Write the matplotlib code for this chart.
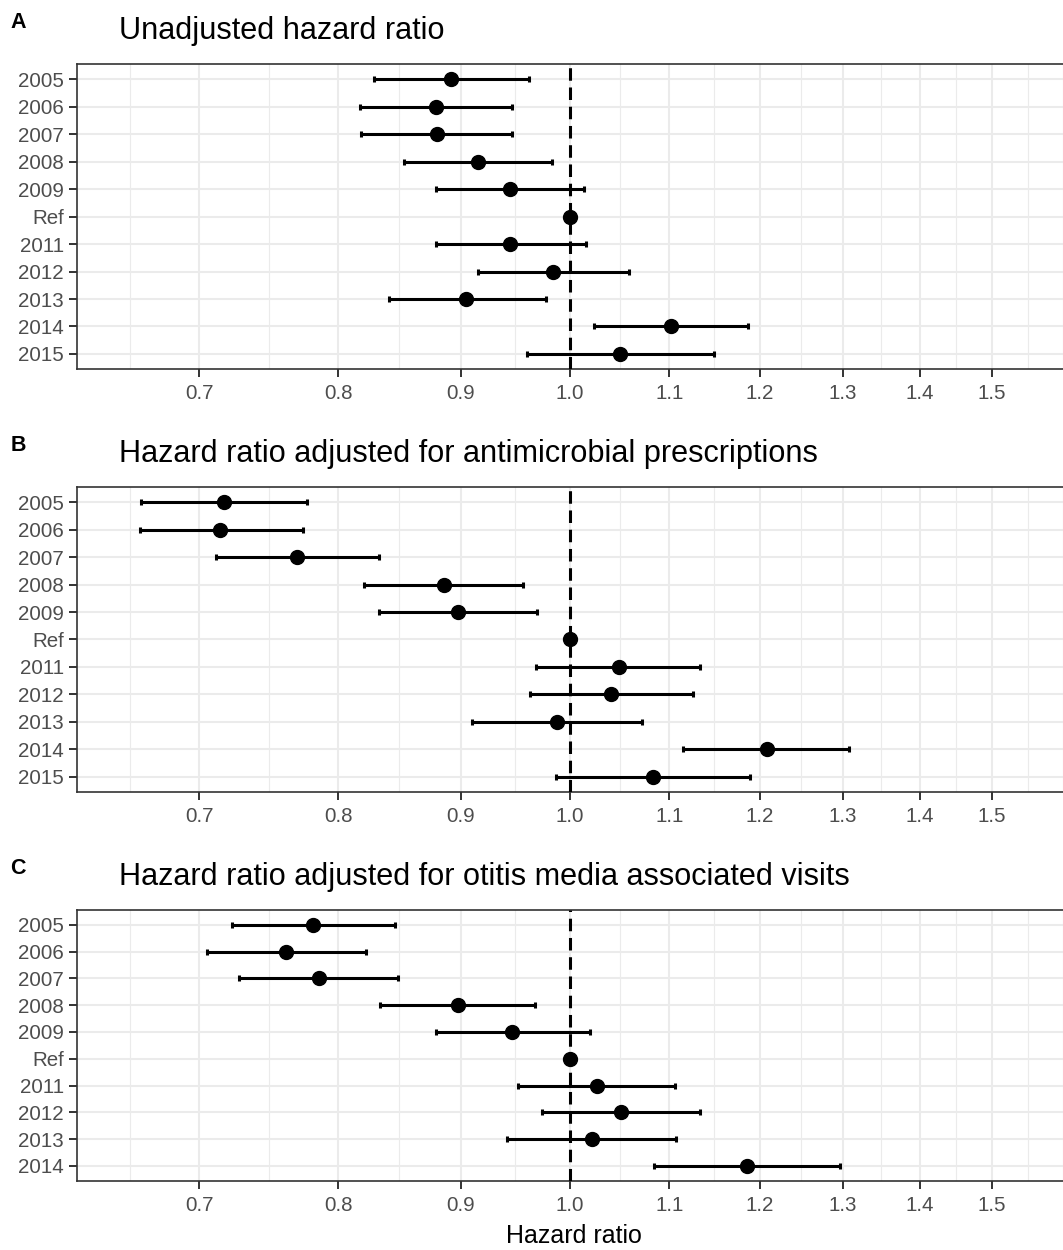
import numpy as np
import matplotlib
matplotlib.use("Agg")
import matplotlib.pyplot as plt
from matplotlib.ticker import NullLocator, NullFormatter, FixedLocator, FixedFormatter

plt.rcParams["font.family"] = ["Liberation Sans", "DejaVu Sans"]

# ---- data ----
years = ["2005", "2006", "2007", "2008", "2009", "Ref", "2011", "2012", "2013", "2014", "2015"]
years_c = years[:-1]

hr_a = [0.892, 0.879, 0.880, 0.915, 0.944, 1.0, 0.944, 0.984, 0.905, 1.102, 1.049]
lo_a = [0.828, 0.817, 0.818, 0.852, 0.879, 1.0, 0.879, 0.915, 0.840, 1.023, 0.959]
hi_a = [0.961, 0.946, 0.946, 0.983, 1.013, 1.0, 1.015, 1.058, 0.977, 1.187, 1.148]

hr_b = [0.717, 0.714, 0.769, 0.886, 0.898, 1.0, 1.048, 1.040, 0.987, 1.208, 1.083]
lo_b = [0.662, 0.661, 0.711, 0.820, 0.832, 1.0, 0.968, 0.962, 0.910, 1.115, 0.986]
hi_b = [0.776, 0.773, 0.832, 0.956, 0.969, 1.0, 1.133, 1.125, 1.072, 1.308, 1.189]

hr_c = [0.781, 0.761, 0.785, 0.898, 0.946, 1.0, 1.026, 1.050, 1.021, 1.185]
lo_c = [0.722, 0.705, 0.727, 0.833, 0.879, 1.0, 0.951, 0.973, 0.941, 1.084]
hi_c = [0.845, 0.822, 0.847, 0.967, 1.019, 1.0, 1.106, 1.133, 1.107, 1.297]

x_breaks = [0.7, 0.8, 0.9, 1.0, 1.1, 1.2, 1.3, 1.4, 1.5]
x_limits = (0.6224, 1.619)

titles = ["Unadjusted hazard ratio",
          "Hazard ratio adjusted for antimicrobial prescriptions",
          "Hazard ratio adjusted for otitis media associated visits"]
tags = ["A", "B", "C"]

W, H = 1063, 1250
GRID = "#EBEBEB"
DARK = "#333333"

fig = plt.figure(figsize=(W / 100, H / 100), dpi=100)


def px(x, y):
    return x / W, 1 - y / H


# minor grid positions: ggplot-style midpoints in log space
lb = np.log(x_breaks)
ext = np.concatenate([[lb[0] - (lb[1] - lb[0])], lb, [lb[-1] + (lb[-1] - lb[-2])]])
minor_x = np.exp(np.concatenate([(ext[:-1] + ext[1:]) / 2, [ext[0], ext[-1]]]))


def draw_panel(rect, labels, hr, lo, hi):
    ax = fig.add_axes(rect)
    hr, lo, hi = map(np.asarray, (hr, lo, hi))
    y = np.arange(len(labels))
    ax.set_xscale("log")
    ax.set_xlim(*x_limits)
    ax.set_ylim(len(labels) - 1 + 0.56, -0.56)

    for m in minor_x:
        ax.axvline(m, color=GRID, lw=0.8, zorder=0)
    for b in x_breaks:
        ax.axvline(b, color=GRID, lw=1.5, zorder=0)
    for yy in y:
        ax.axhline(yy, color=GRID, lw=1.5, zorder=0)

    ax.errorbar(hr, y, xerr=[hr - lo, hi - hr], fmt="none", ecolor="black",
                elinewidth=2.2, capsize=2.0, capthick=2.2, zorder=2)
    ax.axvline(1.0, color="black", lw=2.2, linestyle=(0, (4.1, 2.2)), zorder=3)
    ax.plot(hr, y, "o", color="black", markersize=10, zorder=4)

    ax.xaxis.set_major_locator(FixedLocator(x_breaks))
    ax.xaxis.set_major_formatter(FixedFormatter([f"{b:.1f}" for b in x_breaks]))
    ax.xaxis.set_minor_locator(NullLocator())
    ax.xaxis.set_minor_formatter(NullFormatter())
    ax.set_yticks(y)
    ax.set_yticklabels(labels)
    ax.tick_params(axis="both", length=6, width=1.4, color=DARK,
                   labelcolor="#4D4D4D", labelsize=14.8)
    ax.tick_params(axis="x", pad=4.5)
    ax.tick_params(axis="y", pad=3.5)
    for s in ax.spines.values():
        s.set_color(DARK)
        s.set_linewidth(1.2)
    return ax


panels = [
    (years, hr_a, lo_a, hi_a, 64.0, 369.3),
    (years, hr_b, lo_b, hi_b, 486.7, 792.3),
    (years_c, hr_c, lo_c, hi_c, 909.7, 1181.0),
]

left_px, right_px = 77.3, 1071.0
for i, (labels, hr, lo, hi, top, bottom) in enumerate(panels):
    rect = [left_px / W, 1 - bottom / H, (right_px - left_px) / W, (bottom - top) / H]
    ax = draw_panel(rect, labels, hr, lo, hi)
    fig.text(*px(119, top - 25), titles[i], fontsize=22.1, color="black",
             ha="left", va="baseline")
    fig.text(*px(10.5, top - 36), tags[i], fontsize=15.5, fontweight="bold",
             color="black", ha="left", va="baseline")

fig.text(*px((left_px + right_px) / 2, 1236), "Hazard ratio", fontsize=18,
         color="black", ha="center", va="center")

fig.savefig("out.png", dpi=100)
